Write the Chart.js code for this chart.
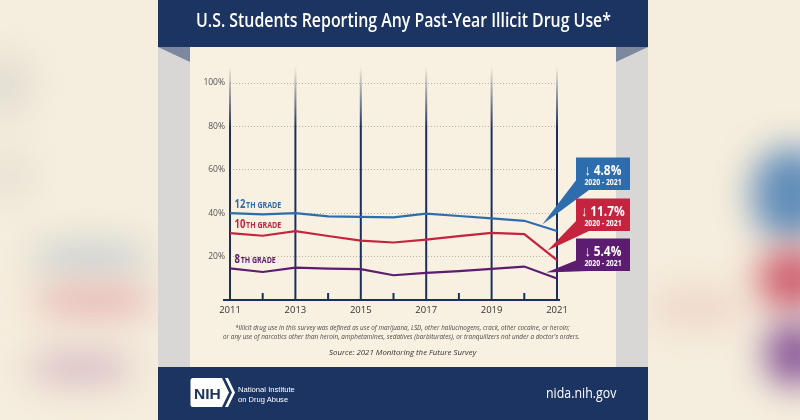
<!DOCTYPE html>
<html><head><meta charset="utf-8">
<script src="https://cdn.jsdelivr.net/npm/chart.js@4"></script>
<style>
html,body{margin:0;padding:0;width:800px;height:420px;overflow:hidden;background:#f5eddd;font-family:'Open Sans',sans-serif;}
.blob{position:absolute;filter:blur(17px);border-radius:45%;}
.box{position:absolute;}
.t{position:absolute;white-space:nowrap;line-height:1;transform-origin:0 0;}
#c{position:absolute;left:0;top:0;}
</style></head>
<body>
<div class="blob" style="left:-20px;top:55px;width:50px;height:60px;background:rgba(205,205,200,0.5)"></div>
<div class="blob" style="left:-10px;top:150px;width:40px;height:50px;background:rgba(210,208,200,0.4)"></div>
<div class="blob" style="left:30px;top:242px;width:120px;height:32px;background:rgba(192,202,207,0.8)"></div>
<div class="blob" style="left:34px;top:284px;width:120px;height:34px;background:rgba(228,172,172,0.8)"></div>
<div class="blob" style="left:28px;top:352px;width:105px;height:32px;background:rgba(208,175,190,0.8)"></div>
<div class="blob" style="left:752px;top:148px;width:80px;height:92px;background:rgba(72,124,180,0.85)"></div>
<div class="blob" style="left:758px;top:248px;width:70px;height:62px;background:rgba(200,72,94,0.85)"></div>
<div class="blob" style="left:765px;top:322px;width:60px;height:64px;background:rgba(118,62,140,0.85)"></div>
<div class="blob" style="left:650px;top:292px;width:95px;height:32px;background:rgba(232,185,178,0.5)"></div>

<div class="box" style="left:158px;top:0;width:490px;height:47px;background:#1b3461"></div>
<div class="box" style="left:158px;top:47px;width:32px;height:320px;background:#d8d7d6"></div>
<div class="box" style="left:616px;top:47px;width:32px;height:320px;background:#d8d7d6"></div>
<div class="box" style="left:190px;top:47px;width:426px;height:320px;background:#f8f0e0"></div>
<svg class="box" style="left:0;top:0" width="800" height="420">
  <polygon points="158,47 190,47 190,62" fill="#7d889f"/>
  <polygon points="616,47 648,47 616,62" fill="#7d889f"/>
</svg>
<div class="box" style="left:158px;top:367px;width:490px;height:53px;background:#1b3461"></div>
<svg class="box" style="left:0;top:0" width="800" height="420">
  <path d="M193,378 H222 L229,392.5 L222,407 H193 Q190.5,407 190.5,404.5 V380.5 Q190.5,378 193,378 Z" fill="#fff"/>
  <path d="M225,378 H228 L235,392.5 L228,407 H225 L232,392.5 Z" fill="#fff"/>
</svg>

<div class="t" id="title" style="color:#fff;font-weight:600;font-size:19.6px">U.S. Students Reporting Any Past-Year Illicit Drug Use*</div>
<div class="t" id="fn1" style="color:#4a4a4a;font-style:italic;font-size:6.6px">*Illicit drug use in this survey was defined as use of marijuana, LSD, other hallucinogens, crack, other cocaine, or heroin;</div>
<div class="t" id="fn2" style="color:#4a4a4a;font-style:italic;font-size:6.6px">or any use of narcotics other than heroin, amphetamines, sedatives (barbiturates), or tranquilizers not under a doctor's orders.</div>
<div class="t" id="src" style="color:#333;font-style:italic;font-size:7.8px">Source: 2021 Monitoring the Future Survey</div>
<div class="t" id="nih" style="color:#1b3461;font-weight:bold;font-size:15px;font-family:'Liberation Sans',sans-serif">NIH</div>
<div class="t" id="ni1" style="color:#fff;font-size:7.5px;font-family:'Liberation Sans',sans-serif">National Institute</div>
<div class="t" id="ni2" style="color:#fff;font-size:7.5px;font-family:'Liberation Sans',sans-serif">on Drug Abuse</div>
<div class="t" id="web" style="color:#fff;font-size:14.5px">nida.nih.gov</div>

<canvas id="c" width="800" height="420"></canvas>
<script>
// ---- data ----
const years = ['2011','2012','2013','2014','2015','2016','2017','2018','2019','2020','2021'];
const grade12 = [40.0, 39.5, 40.0, 38.5, 38.3, 38.1, 39.8, 38.7, 37.6, 36.5, 31.8];
const grade10 = [30.8, 29.6, 31.7, 29.5, 27.4, 26.5, 27.8, 29.4, 30.9, 30.4, 18.4];
const grade8  = [14.6, 12.9, 14.9, 14.5, 14.2, 11.4, 12.5, 13.3, 14.3, 15.4, 9.9];
const seriesNums = ['12', '10', '8'];
const seriesSuffix = 'TH GRADE';
const changes = ['4.8%', '11.7%', '5.4%'];
const changePeriod = '2020 - 2021';
const yTicks = [20, 40, 60, 80, 100];

const colors = ['#2e6dad', '#c5243f', '#5c1c70'];
const navy = '#1b2f5a';

// ---- text placement helper ----
function place(id, x, baseline, width, align, ascRatio){
  const el = document.getElementById(id);
  const fs = parseFloat(el.style.fontSize);
  const w = el.offsetWidth;
  const s = width / w;
  el.style.transform = 'scaleX(' + s + ')';
  el.style.left = (align === 'center' ? x - width/2 : x) + 'px';
  el.style.top = (baseline - ascRatio*fs) + 'px';
}
const OS = 0.888, LS = 0.8465;
place('title', 403, 27.3, 415, 'center', OS);
place('fn1', 402.5, 331.2, 335, 'center', OS);
place('fn2', 401.5, 339.6, 357, 'center', OS);
place('src', 402.5, 355.5, 147, 'center', OS);
place('nih', 193.5, 398.5, 27, 'left', LS);
place('ni1', 237.7, 392, 57, 'left', LS);
place('ni2', 237.7, 402, 50.5, 'left', LS);
place('web', 545.7, 399.3, 70, 'left', OS);

// ---- decorations plugin ----
const deco = {
  id: 'deco',
  beforeDatasetsDraw(chart){
    const {ctx, chartArea:a, scales:{x}} = chart;
    ctx.save();
    years.forEach((yr, i) => {
      const px = x.getPixelForValue(i);
      if (i % 2 === 0){
        const g = ctx.createLinearGradient(0, a.top - 16, 0, a.top + 45);
        g.addColorStop(0, 'rgba(27,47,90,0)');
        g.addColorStop(1, 'rgba(27,47,90,1)');
        ctx.strokeStyle = g; ctx.lineWidth = 2;
        ctx.beginPath(); ctx.moveTo(px, a.top - 16); ctx.lineTo(px, a.bottom); ctx.stroke();
      } else {
        ctx.strokeStyle = navy; ctx.lineWidth = 2;
        ctx.beginPath(); ctx.moveTo(px, a.bottom - 7); ctx.lineTo(px, a.bottom); ctx.stroke();
      }
    });
    ctx.strokeStyle = navy; ctx.lineWidth = 2;
    ctx.beginPath(); ctx.moveTo(a.left - 7, a.bottom); ctx.lineTo(a.right + 3, a.bottom); ctx.stroke();
    ctx.restore();
  },
  afterDatasetsDraw(chart){
    const {ctx, chartArea:a, scales:{x, y}} = chart;
    ctx.save();
    // grade labels
    chart.data.datasets.forEach((ds, k) => {
      const px = x.getPixelForValue(0) + 4.5;
      const py = y.getPixelForValue(ds.data[0]) - 5.5;
      ctx.save();
      ctx.translate(px, py);
      ctx.scale(0.82, 1);
      ctx.fillStyle = colors[k];
      ctx.textBaseline = 'alphabetic';
      ctx.font = 'bold 11.5px "Open Sans"';
      ctx.fillText(seriesNums[k], 0, 0);
      const w = ctx.measureText(seriesNums[k]).width;
      ctx.font = 'bold 8.6px "Open Sans"';
      ctx.fillText(seriesSuffix, w + 1, 0);
      ctx.restore();
    });
    // callouts
    const tipIdx = [9.55, 9.71, 9.67];
    const boxTops = [74.5, 115.5, 155.5];
    chart.data.datasets.forEach((ds, k) => {
      const d = ds.data;
      const f = tipIdx[k] - 9;
      const v = d[9] + (d[10] - d[9]) * f;
      const tx = x.getPixelForValue(9) + (x.getPixelForValue(10) - x.getPixelForValue(9)) * f;
      const ty = y.getPixelForValue(v) - 2;
      const left = a.right + 19, top = a.top + boxTops[k], w = 54, h = 32.5;
      ctx.fillStyle = colors[k];
      ctx.beginPath();
      ctx.moveTo(left + 1, top + h - 11);
      ctx.lineTo(tx, ty);
      ctx.lineTo(left + 13, top + h);
      ctx.closePath(); ctx.fill();
      ctx.fillRect(left, top, w, h);
      ctx.fillStyle = '#fff';
      ctx.textAlign = 'center';
      ctx.textBaseline = 'alphabetic';
      ctx.save();
      ctx.translate(left + w/2, top + 17);
      ctx.scale(0.82, 1);
      ctx.font = 'bold 14.5px "Open Sans"';
      ctx.fillText('\u2193 ' + changes[k], 0, 0);
      ctx.restore();
      ctx.save();
      ctx.translate(left + w/2, top + 27.5);
      ctx.scale(0.8, 1);
      ctx.font = 'bold 8.6px "Open Sans"';
      ctx.fillText(changePeriod, 0, 0);
      ctx.restore();
    });
    ctx.restore();
  }
};

new Chart(document.getElementById('c'), {
  type: 'line',
  data: {
    labels: years,
    datasets: [
      {label: '12th grade', data: grade12, borderColor: colors[0]},
      {label: '10th grade', data: grade10, borderColor: colors[1]},
      {label: '8th grade', data: grade8, borderColor: colors[2]}
    ].map(d => Object.assign(d, {borderWidth: 2.2, pointRadius: 0, tension: 0, fill: false}))
  },
  options: {
    responsive: false,
    animation: false,
    layout: {padding: {left: 190, top: 83, right: 243, bottom: 100}},
    plugins: {legend: {display: false}, tooltip: {enabled: false}},
    scales: {
      x: {
        offset: false,
        grid: {display: false, drawTicks: false},
        border: {display: false},
        ticks: {autoSkip: false, maxRotation: 0, padding: 5, color: '#333',
          font: {family: 'Open Sans', size: 9.5},
          callback: (v, i) => i % 2 === 0 ? years[i] : ''},
        afterFit(s){ s.height = 20; }
      },
      y: {
        min: 0, max: 100,
        afterBuildTicks(s){ s.ticks = [0].concat(yTicks).map(v => ({value: v})); },
        ticks: {padding: 5, color: '#555', font: {family: 'Open Sans', size: 8.5},
          callback: v => v === 0 ? '' : v + '%'},
        grid: {drawTicks: false, lineWidth: 1,
          color: c => c.tick && c.tick.value === 0 ? 'rgba(0,0,0,0)' : '#b9b1a2'},
        border: {display: false, dash: [1, 2]},
        afterFit(s){ s.width = 40; }
      }
    }
  },
  plugins: [deco]
});
</script>
</body></html>
